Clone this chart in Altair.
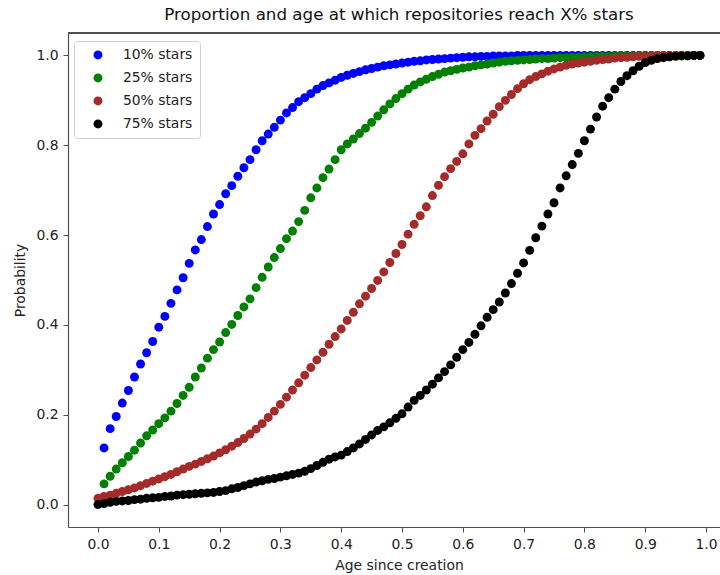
import altair as alt
import pandas as pd

# Age grid (fraction of repository lifetime)
AGES = [0.00, 0.01, 0.02, 0.03, 0.04, 0.05, 0.06, 0.07, 0.08, 0.09,
        0.10, 0.11, 0.12, 0.13, 0.14, 0.15, 0.16, 0.17, 0.18, 0.19,
        0.20, 0.21, 0.22, 0.23, 0.24, 0.25, 0.26, 0.27, 0.28, 0.29,
        0.30, 0.31, 0.32, 0.33, 0.34, 0.35, 0.36, 0.37, 0.38, 0.39,
        0.40, 0.41, 0.42, 0.43, 0.44, 0.45, 0.46, 0.47, 0.48, 0.49,
        0.50, 0.51, 0.52, 0.53, 0.54, 0.55, 0.56, 0.57, 0.58, 0.59,
        0.60, 0.61, 0.62, 0.63, 0.64, 0.65, 0.66, 0.67, 0.68, 0.69,
        0.70, 0.71, 0.72, 0.73, 0.74, 0.75, 0.76, 0.77, 0.78, 0.79,
        0.80, 0.81, 0.82, 0.83, 0.84, 0.85, 0.86, 0.87, 0.88, 0.89,
        0.90, 0.91, 0.92, 0.93, 0.94, 0.95, 0.96, 0.97, 0.98, 0.99]

# Cumulative probability of having reached X% of final stars, ages 0.01-0.99
P10 = [0.126, 0.169, 0.196, 0.226, 0.254, 0.284, 0.313, 0.338, 0.363,
       0.395, 0.419, 0.448, 0.478, 0.505, 0.537, 0.567, 0.590, 0.619, 0.647,
       0.668, 0.692, 0.710, 0.731, 0.750, 0.768, 0.790, 0.810, 0.825, 0.840,
       0.856, 0.872, 0.884, 0.897, 0.906, 0.915, 0.925, 0.933, 0.939, 0.945,
       0.951, 0.956, 0.960, 0.964, 0.968, 0.971, 0.974, 0.977, 0.979, 0.981,
       0.983, 0.985, 0.987, 0.988, 0.990, 0.991, 0.992, 0.993, 0.994, 0.995,
       0.996, 0.997, 0.997, 0.998, 0.998, 0.999, 0.999, 0.999, 0.999, 1.000,
       1.000, 1.000, 1.000, 1.000, 1.000, 1.000, 1.000, 1.000, 1.000, 1.000,
       1.000, 1.000, 1.000, 1.000, 1.000, 1.000, 1.000, 1.000, 1.000, 1.000,
       1.000, 1.000, 1.000, 1.000, 1.000, 1.000, 1.000, 1.000, 1.000, 1.000]

P25 = [0.046, 0.063, 0.079, 0.093, 0.107, 0.121, 0.137, 0.153, 0.166,
       0.180, 0.193, 0.208, 0.225, 0.243, 0.261, 0.284, 0.304, 0.326, 0.345,
       0.362, 0.383, 0.401, 0.421, 0.440, 0.458, 0.483, 0.506, 0.529, 0.550,
       0.570, 0.592, 0.609, 0.630, 0.655, 0.683, 0.705, 0.728, 0.747, 0.768,
       0.790, 0.803, 0.814, 0.826, 0.838, 0.851, 0.865, 0.879, 0.892, 0.904,
       0.915, 0.925, 0.934, 0.941, 0.947, 0.953, 0.958, 0.963, 0.966, 0.969,
       0.972, 0.974, 0.977, 0.979, 0.981, 0.983, 0.985, 0.987, 0.988, 0.989,
       0.990, 0.991, 0.992, 0.993, 0.993, 0.994, 0.995, 0.995, 0.996, 0.996,
       0.997, 0.997, 0.998, 0.998, 0.998, 0.999, 0.999, 0.999, 0.999, 1.000,
       1.000, 1.000, 1.000, 1.000, 1.000, 1.000, 1.000, 1.000, 1.000, 1.000]

# Ages 0.00-0.99
P50 = [0.014, 0.018, 0.021, 0.025, 0.029, 0.033, 0.037, 0.042, 0.047, 0.052,
       0.057, 0.062, 0.067, 0.073, 0.079, 0.085, 0.090, 0.096, 0.102, 0.108,
       0.115, 0.122, 0.130, 0.138, 0.147, 0.157, 0.168, 0.180, 0.194, 0.208,
       0.223, 0.239, 0.255, 0.271, 0.288, 0.305, 0.322, 0.339, 0.357, 0.374,
       0.391, 0.410, 0.428, 0.447, 0.464, 0.481, 0.499, 0.518, 0.539, 0.559,
       0.579, 0.602, 0.624, 0.643, 0.663, 0.688, 0.711, 0.730, 0.748, 0.764,
       0.781, 0.803, 0.822, 0.837, 0.854, 0.869, 0.886, 0.900, 0.913, 0.926,
       0.937, 0.946, 0.953, 0.959, 0.965, 0.970, 0.974, 0.978, 0.981, 0.983,
       0.985, 0.987, 0.989, 0.991, 0.992, 0.994, 0.995, 0.996, 0.997, 0.998,
       0.998, 0.999, 0.999, 0.999, 1.000, 1.000, 1.000, 1.000, 1.000, 1.000]

P75 = [0.000, 0.002, 0.005, 0.007, 0.008, 0.009, 0.011, 0.012, 0.014, 0.015,
       0.016, 0.018, 0.019, 0.021, 0.022, 0.023, 0.024, 0.025, 0.026, 0.027,
       0.029, 0.031, 0.035, 0.038, 0.042, 0.046, 0.050, 0.053, 0.056, 0.058,
       0.061, 0.064, 0.067, 0.070, 0.074, 0.080, 0.087, 0.094, 0.101, 0.106,
       0.110, 0.118, 0.126, 0.135, 0.145, 0.155, 0.165, 0.173, 0.182, 0.192,
       0.202, 0.217, 0.232, 0.243, 0.255, 0.268, 0.282, 0.296, 0.311, 0.328,
       0.345, 0.361, 0.379, 0.398, 0.417, 0.434, 0.451, 0.471, 0.492, 0.515,
       0.538, 0.566, 0.594, 0.620, 0.647, 0.672, 0.705, 0.732, 0.757, 0.782,
       0.810, 0.836, 0.863, 0.887, 0.906, 0.925, 0.942, 0.955, 0.966, 0.976,
       0.984, 0.989, 0.993, 0.995, 0.997, 0.998, 0.999, 0.999, 1.000, 1.000]

SERIES = ["10% stars", "25% stars", "50% stars", "75% stars"]
COLORS = ["#0000ff", "#008000", "#a52a2a", "#000000"]

rows = []
for name, vals, ages in zip(SERIES, [P10, P25, P50, P75],
                            [AGES[1:], AGES[1:], AGES, AGES]):
    for a, p in zip(ages, vals):
        rows.append({"age": a, "prob": p, "series": name})
df = pd.DataFrame(rows)

FONT = "DejaVu Sans"
W, H = 652, 494
SPINE = "#505050"
TEXT = "#222222"

points = alt.Chart(df).mark_circle(size=80, opacity=1).encode(
    x=alt.X("age:Q",
            scale=alt.Scale(domain=[-0.0493, 1.023], nice=False, zero=False),
            axis=alt.Axis(values=[0, 0.1, 0.2, 0.3, 0.4, 0.5, 0.6, 0.7, 0.8, 0.9, 1.0],
                          format=".1f", title="Age since creation",
                          titleX=331, titleY=38, titleAlign="center",
                          titleBaseline="middle", labelFlush=False,
                          labelOverlap=False)),
    y=alt.Y("prob:Q",
            scale=alt.Scale(domain=[-0.05, 1.05], nice=False, zero=False),
            axis=alt.Axis(values=[0, 0.2, 0.4, 0.6, 0.8, 1.0], format=".1f",
                          title="Probability", titleX=-48, titleY=247,
                          titleAlign="center", titleBaseline="middle",
                          titleAngle=-90)),
    color=alt.Color("series:N",
                    scale=alt.Scale(domain=SERIES, range=COLORS),
                    legend=alt.Legend(title=None, orient="none", legendX=6, legendY=8,
                                      direction="vertical", fillColor="white",
                                      strokeColor="#d0d0d0", cornerRadius=3,
                                      padding=7, symbolOffset=10, labelOffset=18,
                                      rowPadding=8, labelFontSize=13.9, labelFont=FONT,
                                      labelColor=TEXT, symbolSize=80,
                                      symbolType="circle", symbolStrokeWidth=0,
                                      symbolOpacity=1, labelLimit=0)),
    order=alt.Order("series:N"),
)

top_spine = alt.Chart(df).mark_rule(color=SPINE, strokeWidth=1.2).encode(
    x=alt.value(0), x2=alt.value(W), y=alt.value(0)
)

chart = alt.layer(points, top_spine).properties(
    width=W, height=H,
    background="white",
    title=alt.TitleParams("Proportion and age at which repositories reach X% stars",
                          font=FONT, fontSize=16.7, fontWeight="normal",
                          color="#111111", anchor="middle", dx=5, offset=9),
    autosize="none",
    padding={"left": 68, "top": 33, "right": 0, "bottom": 48},
).configure_view(strokeWidth=0).configure_axis(
    grid=False, domainColor=SPINE, domainWidth=1.2, tickColor=SPINE,
    tickSize=5, tickWidth=1, labelPadding=5, labelFont=FONT, labelFontSize=13.9,
    labelColor=TEXT, titleFont=FONT, titleFontSize=13.9,
    titleFontWeight="normal", titleColor=TEXT,
)

chart.save("out.html", embed_options={"renderer": "svg", "actions": False})
